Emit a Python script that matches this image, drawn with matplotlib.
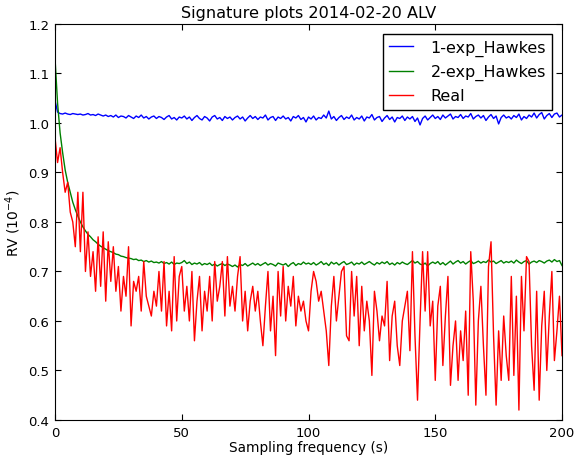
import numpy as np
import matplotlib
matplotlib.use("Agg")
import matplotlib.pyplot as plt

# sampling frequency in seconds
freq = np.arange(0, 201)

one_exp = [
    1.045, 1.022, 1.019, 1.018, 1.020, 1.018, 1.017, 1.019, 1.018, 1.017,
    1.018, 1.016, 1.017, 1.019, 1.016, 1.017, 1.015, 1.018, 1.016, 1.014,
    1.016, 1.013, 1.015, 1.012, 1.016, 1.011, 1.014, 1.013, 1.010, 1.015,
    1.012, 1.009, 1.014, 1.011, 1.016, 1.010, 1.013, 1.008, 1.012, 1.014,
    1.009, 1.013, 1.011, 1.007, 1.012, 1.015, 1.008, 1.011, 1.006, 1.012,
    1.010, 1.014, 1.008, 1.012, 1.005, 1.011, 1.015, 1.009, 1.006, 1.013,
    1.010, 1.004, 1.012, 1.015, 1.008, 1.011, 1.005, 1.013, 1.009, 1.012,
    1.006, 1.011, 1.014, 1.008, 1.012, 1.004, 1.010, 1.015, 1.009, 1.013,
    1.007, 1.012, 1.010, 1.016, 1.006, 1.011, 1.013, 1.005, 1.012, 1.009,
    1.014, 1.008, 1.011, 1.004, 1.013, 1.010, 1.015, 1.007, 1.011, 1.002,
    1.012, 1.008, 1.014, 1.006, 1.011, 1.009, 1.016, 1.010, 1.024, 1.008,
    1.013, 1.005, 1.011, 1.015, 1.007, 1.012, 1.009, 1.016, 1.006, 1.011,
    1.008, 1.014, 1.004, 1.012, 1.010, 1.017, 1.006, 1.011, 1.013, 1.003,
    1.010, 1.015, 1.007, 1.012, 1.002, 1.011, 1.009, 1.014, 1.005, 1.012,
    1.008, 1.013, 1.003, 1.010, 0.996, 1.009, 1.014, 1.006, 1.011, 1.016,
    1.009, 1.013, 1.007, 1.016, 1.010, 1.014, 1.018, 1.008, 1.013, 1.011,
    1.017, 1.009, 1.014, 1.012, 1.019, 1.008, 1.013, 1.016, 1.010, 1.015,
    1.005, 1.012, 1.017, 1.009, 1.014, 0.998, 1.011, 1.016, 1.010, 1.013,
    1.008, 1.015, 1.011, 1.018, 1.006, 1.013, 1.009, 1.016, 1.012, 1.020,
    1.010, 1.017, 1.021, 1.008, 1.015, 1.019, 1.011, 1.018, 1.020, 1.012,
    1.016,
]

two_exp = [
    1.130, 1.040, 0.980, 0.940, 0.905, 0.880, 0.860, 0.840, 0.825, 0.812,
    0.800, 0.790, 0.782, 0.775, 0.770, 0.764, 0.760, 0.755, 0.751, 0.748,
    0.745, 0.742, 0.740, 0.738, 0.735, 0.734, 0.731, 0.730, 0.728, 0.727,
    0.726, 0.724, 0.725, 0.722, 0.723, 0.720, 0.722, 0.719, 0.721, 0.718,
    0.719, 0.717, 0.720, 0.716, 0.718, 0.715, 0.719, 0.714, 0.717, 0.716,
    0.718, 0.722, 0.716, 0.719, 0.714, 0.717, 0.715, 0.718, 0.713, 0.716,
    0.714, 0.717, 0.712, 0.715, 0.711, 0.714, 0.716, 0.712, 0.715, 0.713,
    0.710, 0.713, 0.709, 0.714, 0.712, 0.716, 0.711, 0.714, 0.717, 0.713,
    0.716, 0.712, 0.715, 0.718, 0.713, 0.716, 0.714, 0.711, 0.717, 0.715,
    0.713, 0.716, 0.710, 0.715, 0.718, 0.712, 0.716, 0.714, 0.719, 0.715,
    0.717, 0.714, 0.718, 0.713, 0.716, 0.720, 0.714, 0.717, 0.712, 0.719,
    0.715, 0.718, 0.713, 0.717, 0.720, 0.714, 0.716, 0.719, 0.713, 0.717,
    0.715, 0.719, 0.714, 0.717, 0.720, 0.716, 0.713, 0.718, 0.715, 0.719,
    0.716, 0.720, 0.714, 0.717, 0.713, 0.718, 0.715, 0.719, 0.716, 0.714,
    0.718, 0.722, 0.717, 0.720, 0.715, 0.713, 0.717, 0.711, 0.716, 0.719,
    0.716, 0.720, 0.714, 0.718, 0.713, 0.717, 0.721, 0.715, 0.719, 0.722,
    0.717, 0.720, 0.715, 0.719, 0.722, 0.716, 0.718, 0.721, 0.717, 0.720,
    0.718, 0.723, 0.719, 0.721, 0.716, 0.719, 0.722, 0.717, 0.720, 0.718,
    0.721, 0.717, 0.723, 0.719, 0.716, 0.720, 0.722, 0.715, 0.719, 0.721,
    0.718, 0.722, 0.720, 0.717, 0.721, 0.723, 0.719, 0.724, 0.720, 0.722,
    0.712,
]

real = [
    0.97, 0.92, 0.95, 0.90, 0.86, 0.88, 0.82, 0.80, 0.75, 0.86,
    0.74, 0.86, 0.70, 0.78, 0.69, 0.74, 0.66, 0.77, 0.67, 0.78,
    0.64, 0.76, 0.68, 0.75, 0.66, 0.71, 0.62, 0.69, 0.65, 0.75,
    0.59, 0.68, 0.66, 0.69, 0.62, 0.72, 0.65, 0.63, 0.61, 0.66,
    0.63, 0.70, 0.62, 0.72, 0.59, 0.66, 0.58, 0.73, 0.60, 0.69,
    0.71, 0.62, 0.67, 0.60, 0.70, 0.56, 0.64, 0.69, 0.58, 0.66,
    0.62, 0.69, 0.60, 0.72, 0.64, 0.67, 0.72, 0.61, 0.73, 0.63,
    0.67, 0.62, 0.69, 0.73, 0.60, 0.66, 0.58, 0.64, 0.67, 0.62,
    0.66, 0.60, 0.55, 0.63, 0.70, 0.58, 0.65, 0.53, 0.70, 0.61,
    0.71, 0.60, 0.67, 0.63, 0.69, 0.59, 0.65, 0.62, 0.64, 0.60,
    0.58, 0.66, 0.70, 0.68, 0.64, 0.66, 0.62, 0.58, 0.51, 0.63,
    0.69, 0.60, 0.65, 0.70, 0.71, 0.57, 0.56, 0.70, 0.61, 0.69,
    0.55, 0.67, 0.58, 0.64, 0.60, 0.49, 0.66, 0.62, 0.56, 0.61,
    0.59, 0.68, 0.52, 0.61, 0.64, 0.55, 0.51, 0.60, 0.63, 0.66,
    0.54, 0.74, 0.57, 0.44, 0.60, 0.74, 0.62, 0.74, 0.59, 0.64,
    0.48, 0.63, 0.67, 0.51, 0.61, 0.69, 0.47, 0.55, 0.60, 0.48,
    0.58, 0.52, 0.62, 0.45, 0.74, 0.64, 0.43, 0.60, 0.67, 0.55,
    0.45, 0.71, 0.76, 0.57, 0.43, 0.58, 0.48, 0.61, 0.53, 0.48,
    0.69, 0.49, 0.65, 0.42, 0.69, 0.58, 0.73, 0.72, 0.55, 0.46,
    0.66, 0.44, 0.59, 0.66, 0.50, 0.61, 0.70, 0.52, 0.58, 0.65,
    0.53,
]

fig = plt.figure(figsize=(5.75, 4.56), dpi=100)
ax = fig.add_axes([0.0957, 0.0768, 0.8817, 0.8685])

ax.plot(freq, one_exp, color='b', lw=1.0, label="1-exp_Hawkes")
ax.plot(freq, two_exp, color='g', lw=1.0, label="2-exp_Hawkes")
ax.plot(freq, real, color='r', lw=1.0, label="Real")

ax.set_xlim(0, 200)
ax.set_ylim(0.4, 1.2)
ax.set_xticks([0, 50, 100, 150, 200])
yt = np.arange(0.4, 1.21, 0.1)
ax.set_yticks(yt)
ax.set_yticklabels(["%.1f" % v for v in yt])
ax.tick_params(direction='in', top=True, right=True, length=4,
               labelsize=9.5, pad=4)

ax.set_title("Signature plots 2014-02-20 ALV", fontsize=11.6, pad=5)
ax.set_xlabel("Sampling frequency (s)", fontsize=9.8, labelpad=1)
ax.set_ylabel("RV ($10^{-4}$)", fontsize=10)

leg = ax.legend(loc='upper right', fontsize=11.5, fancybox=False,
                framealpha=1, edgecolor='black', handlelength=1.5,
                handletextpad=1.1, borderaxespad=0.6)
leg.get_frame().set_linewidth(1.0)

fig.savefig("out.png", dpi=100)
